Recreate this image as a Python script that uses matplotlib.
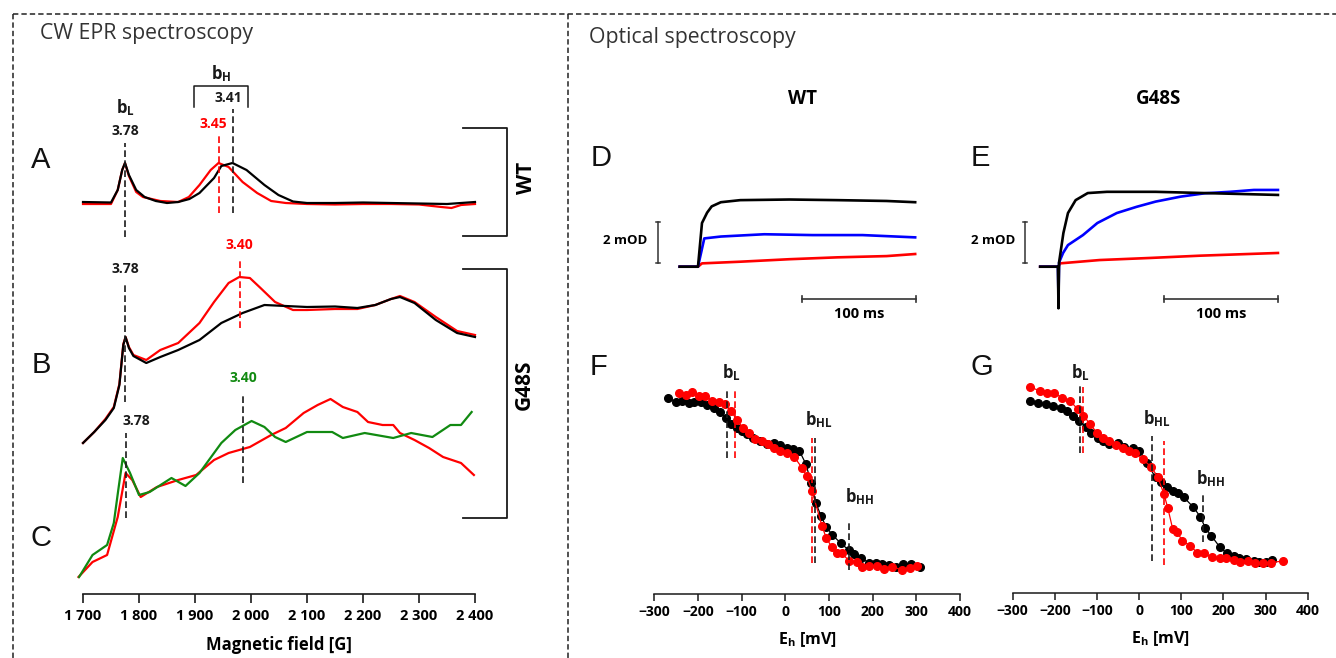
import matplotlib
matplotlib.use("Agg")
import matplotlib.pyplot as plt
from matplotlib.lines import Line2D

plt.rcParams['font.family'] = ['Open Sans', 'DejaVu Sans']
plt.rcParams['mathtext.fontset'] = 'custom'
plt.rcParams['mathtext.bf'] = 'Open Sans:bold'
plt.rcParams['mathtext.rm'] = 'Open Sans'
plt.rcParams['mathtext.it'] = 'Open Sans:italic'

RED = '#ff0000'
GREEN = '#118a11'
BLUE = '#0000ff'
INK = '#1a1a1a'

# ---------------- CW EPR data (field in G, signal in a.u., offset per sample) -------------
field_ticks = [1700, 1800, 1900, 2000, 2100, 2200, 2300, 2400]
field_labels = ['1 700', '1 800', '1 900', '2 000', '2 100', '2 200', '2 300', '2 400']

# A: WT
a_black_B = [1700, 1750, 1762, 1770, 1775, 1782, 1795, 1810, 1830, 1850, 1870, 1890, 1908, 1934,
             1947, 1967, 1992, 2024, 2049, 2075, 2100, 2150, 2200, 2250, 2300, 2350, 2400]
a_black_S = [392, 391.5, 404, 424, 431, 419, 404, 397, 393, 391, 392, 395, 401, 416,
             428, 431, 424, 409, 399, 392.5, 391, 391, 391.5, 391, 390.5, 390, 392]
a_red_B = [1700, 1750, 1762, 1770, 1775, 1782, 1795, 1807, 1838, 1870, 1889, 1908, 1928, 1942,
           1960, 1985, 2011, 2036, 2062, 2100, 2150, 2200, 2250, 2300, 2340, 2358, 2375, 2400]
a_red_S = [390, 390, 404, 424, 431, 418, 402, 397, 393, 392, 397, 409, 424, 431,
           427, 412, 401, 393, 391, 390, 389.5, 390, 390, 389.5, 387, 386, 389, 390]

# B: G48S
b_black_B = [1700, 1720, 1740, 1755, 1765, 1772, 1776, 1782, 1790, 1813, 1838, 1870, 1908, 1947,
             1985, 2024, 2062, 2100, 2150, 2190, 2222, 2250, 2266, 2292, 2330, 2368, 2400]
b_black_S = [151, 162, 174, 186, 209, 249, 257, 246, 238, 231, 237, 244, 254, 271,
             281, 289, 288, 287, 287.5, 286, 289, 295, 297, 291, 274, 261, 257]
b_red_B = [1700, 1720, 1740, 1755, 1765, 1772, 1776, 1782, 1790, 1813, 1838, 1870, 1908, 1934,
           1960, 1979, 1998, 2017, 2043, 2075, 2100, 2150, 2190, 2222, 2250, 2266, 2292, 2330,
           2368, 2400]
b_red_S = [151, 162, 175, 187, 210, 250, 257, 247, 239, 234, 244, 251, 271, 292,
           311, 317, 316, 306, 292, 284, 284, 285, 285, 289, 295, 298, 292, 277,
           263, 259]

# C: G48S
c_green_B = [1693, 1717, 1743, 1755, 1763, 1771, 1784, 1800, 1819, 1858, 1883, 1908, 1947, 1972,
             2001, 2024, 2043, 2062, 2100, 2145, 2164, 2203, 2254, 2286, 2324, 2356, 2375, 2394]
c_green_S = [17, 39, 49, 71, 104, 136, 121, 99, 102, 116, 108, 121, 151, 164,
             173, 167, 157, 152, 162, 162, 156, 161, 156, 161, 157, 169, 169, 182]
c_red_B = [1692, 1717, 1743, 1762, 1776, 1788, 1803, 1832, 1870, 1902, 1934, 1960, 1998, 2036,
           2062, 2094, 2119, 2142, 2164, 2190, 2209, 2235, 2254, 2266, 2292, 2318, 2343, 2375, 2398]
c_red_S = [17, 32, 39, 77, 121, 114, 97, 107, 114, 119, 134, 141, 147, 159,
           166, 181, 189, 195, 187, 182, 172, 169, 169, 161, 154, 146, 137, 131, 119]

# marker lines: (field, low, high, colour)
epr_marks = [(1775, 357, 451, 'k'), (1942, 381, 461, 'r'), (1967, 381, 485, 'k'),
             (1775, 192, 311, 'k'), (1981, 266, 334, 'r'),
             (1985, 111, 201, 'k'), (1777, 76, 161, 'k')]
# g-value labels: (field, signal, text, colour)
epr_gvals = [(1775, 463, '3.78', 'k'), (1932, 470, '3.45', 'r'), (1960, 496, '3.41', 'k'),
             (1980, 349, '3.40', 'r'), (1775, 325, '3.78', 'k'),
             (1986, 216, '3.40', 'g'), (1796, 173, '3.78', 'k')]

# ---------------- Optical kinetics (t in ms, dOD in mOD) ----------------
d_black_t = [-16, -8, 0, 3.5, 8, 12, 20, 37, 80, 122, 165, 190]
d_black_y = [0.0, 0.0, 0.0, 2.1, 2.6, 2.9, 3.1, 3.2, 3.23, 3.2, 3.16, 3.1]
d_blue_t = [-16, -8, 0, 5.5, 20, 58, 100, 144, 190]
d_blue_y = [0.0, 0.0, 0.0, 1.36, 1.45, 1.56, 1.52, 1.52, 1.41]
d_red_t = [-16, -8, 0, 3.5, 37, 80, 122, 165, 190]
d_red_y = [0.0, 0.0, 0.0, 0.16, 0.24, 0.36, 0.45, 0.51, 0.61]

e_black_t = [-16, -8, -0.5, 0, 0.5, 4.3, 8.3, 15, 25.6, 42.4, 85, 128, 192]
e_black_y = [0, 0, 0, -2.0, 0.2, 1.62, 2.58, 3.2, 3.54, 3.6, 3.6, 3.54, 3.45]
e_blue_t = [-16, -8, -0.5, 0, 0.5, 4, 8.3, 21.4, 34, 51, 68.4, 85, 107, 128, 150, 171, 192]
e_blue_y = [0, 0, 0, -1.5, 0.2, 0.66, 1.04, 1.52, 2.1, 2.58, 2.88, 3.13, 3.37, 3.53, 3.6, 3.69, 3.69]
e_red_t = [-16, -8, 0, 1.3, 36, 80, 124, 192]
e_red_y = [0, 0, 0, 0.16, 0.32, 0.42, 0.53, 0.66]

# ---------------- Redox titrations (Eh in mV, normalised absorbance) ----------------
eh_ticks = [-300, -200, -100, 0, 100, 200, 300, 400]
eh_labels = ['\u2212300', '\u2212200', '\u2212100', '0', '100', '200', '300', '400']

f_black_E = [-269, -250, -236, -221, -208, -194, -180, -164, -149, -136, -124, -111, -99, -88,
             -73, -58, -43, -27, -12, 3, 17, 32, 47, 59, 70, 82, 93, 108, 127, 145, 158, 173,
             192, 207, 222, 237, 253, 270, 287, 308]
f_black_A = [1.010, 0.990, 0.996, 0.981, 0.990, 0.986, 0.971, 0.951, 0.928, 0.892, 0.859, 0.834,
             0.818, 0.798, 0.778, 0.759, 0.741, 0.745, 0.735, 0.716, 0.710, 0.702, 0.624, 0.514,
             0.392, 0.318, 0.255, 0.206, 0.157, 0.118, 0.092, 0.069, 0.043, 0.039, 0.034, 0.029,
             0.019, 0.034, 0.034, 0.019]
f_red_E = [-244, -228, -213, -198, -183, -167, -152, -139, -124, -111, -96, -84, -69, -53, -40,
           -27, -12, 5, 21, 38, 49, 61, 84, 94, 107, 119, 129, 146, 165, 175, 192, 209, 226, 245,
           268, 285, 302]
f_red_A = [1.039, 1.029, 1.049, 1.025, 1.024, 0.994, 0.986, 0.976, 0.935, 0.882, 0.834, 0.808,
           0.769, 0.759, 0.741, 0.719, 0.702, 0.686, 0.663, 0.602, 0.553, 0.466, 0.259, 0.186,
           0.134, 0.102, 0.098, 0.055, 0.049, 0.019, 0.024, 0.024, 0.006, 0.019, 0.000, 0.014,
           0.024]

g_black_E = [-259, -240, -220, -203, -186, -170, -156, -142, -126, -113, -98, -86, -71, -51, -36,
             -15, 1, 18, 39, 52, 66, 80, 92, 106, 129, 145, 157, 171, 191, 208, 226, 238, 254,
             272, 285, 301, 315]
g_black_A = [0.996, 0.984, 0.976, 0.965, 0.951, 0.935, 0.908, 0.878, 0.843, 0.808, 0.778, 0.761,
             0.741, 0.745, 0.725, 0.716, 0.700, 0.631, 0.545, 0.519, 0.490, 0.466, 0.451, 0.428,
             0.369, 0.314, 0.249, 0.202, 0.137, 0.098, 0.082, 0.072, 0.065, 0.055, 0.049, 0.045,
             0.059]
g_red_E = [-258, -234, -218, -201, -182, -164, -146, -132, -116, -100, -86, -71, -55, -39, -25,
           -10, 9, 28, 44, 59, 68, 80, 90, 103, 121, 138, 155, 172, 191, 206, 225, 240, 258, 275,
           293, 312, 341]
g_red_A = [1.075, 1.053, 1.039, 1.043, 1.010, 0.996, 0.947, 0.908, 0.857, 0.808, 0.778, 0.761,
           0.735, 0.716, 0.702, 0.686, 0.651, 0.608, 0.549, 0.447, 0.366, 0.239, 0.222, 0.172,
           0.143, 0.102, 0.098, 0.075, 0.069, 0.069, 0.059, 0.049, 0.055, 0.043, 0.039, 0.043,
           0.053]

# midpoint markers: (Eh, low, high, colour)
f_marks = [(-133, 0.657, 1.059, 'k'), (-116, 0.659, 1.059, 'r'),
           (61.6, 0.039, 0.775, 'r'), (68.5, 0.039, 0.775, 'k'), (146, 0.0, 0.290, 'k')]
g_marks = [(-140, 0.690, 1.094, 'k'), (-132, 0.686, 1.078, 'r'),
           (31, 0.055, 0.790, 'k'), (60, 0.029, 0.761, 'r'), (151, 0.166, 0.457, 'k')]
f_names = [(-124, 1.159, 'L'), (76, 0.886, 'HL'), (170, 0.431, 'HH')]
g_names = [(-138, 1.159, 'L'), (43, 0.892, 'HL'), (169, 0.539, 'HH')]

COLS = {'k': INK, 'r': RED, 'g': GREEN}

# ---------------- figure ----------------
W, H = 1336, 658
fig = plt.figure(figsize=(W / 100, H / 100), dpi=100)


def px_axes(left, top, right, bottom):
    return fig.add_axes([left / W, 1 - bottom / H, (right - left) / W, (bottom - top) / H])


def ftext(x, y, s, **kw):
    fig.text(x / W, 1 - y / H, s, **kw)


def fline(xs, ys, **kw):
    fig.add_artist(Line2D([x / W for x in xs], [1 - y / H for y in ys],
                          transform=fig.transFigure, **kw))


# dashed frame
dash = dict(color='#222222', lw=1.1, linestyle=(0, (3.5, 2)))
fline([13, 1336], [14, 14], **dash)
fline([13, 13], [14, 658], **dash)
fline([568, 568], [14, 658], **dash)

ftext(40, 33, 'CW EPR spectroscopy', fontsize=15.3, color='#333333', va='center')
ftext(589, 37, 'Optical spectroscopy', fontsize=15.3, color='#333333', va='center')

letter = dict(fontsize=21, family=['Liberation Sans', 'DejaVu Sans'], ha='center', va='center',
              color='#111111')
for s, x, y in [('A', 41, 160), ('B', 41, 365), ('C', 41, 538),
                ('D', 601, 158), ('E', 980, 158), ('F', 599, 367), ('G', 982, 367)]:
    ftext(x, y, s, **letter)

# ---------- EPR panel ----------
ax = px_axes(71.8, 60, 486.2, 594)
ax.set_xlim(1680, 2420)
ax.set_ylim(0, 534)
for sp in ['top', 'right', 'left']:
    ax.spines[sp].set_visible(False)
ax.spines['bottom'].set_bounds(1700, 2400)
ax.spines['bottom'].set_linewidth(1.2)
ax.spines['bottom'].set_color(INK)
ax.set_yticks([])
ax.set_xticks(field_ticks)
ax.set_xticklabels(field_labels, fontsize=10.5, fontweight='bold')
ax.tick_params(axis='x', direction='out', length=6.5, width=1.2, color=INK, pad=4)
ax.set_xlabel('Magnetic field [G]', fontsize=12, fontweight='bold', labelpad=10)

lw_epr = 1.6
ax.plot(a_red_B, a_red_S, color=RED, lw=lw_epr)
ax.plot(a_black_B, a_black_S, color='black', lw=lw_epr)
ax.plot(b_red_B, b_red_S, color=RED, lw=lw_epr)
ax.plot(b_black_B, b_black_S, color='black', lw=lw_epr)
ax.plot(c_red_B, c_red_S, color=RED, lw=lw_epr, clip_on=False)
ax.plot(c_green_B, c_green_S, color=GREEN, lw=lw_epr, clip_on=False)

for b, lo, hi, c in epr_marks:
    ax.plot([b, b], [lo, hi], color=COLS[c], lw=1.2, linestyle=(0, (4, 2)))
for b, s, t, c in epr_gvals:
    ax.text(b, s, t, color=COLS[c], fontsize=10, fontweight='bold', ha='center', va='center')

ax.text(1775, 486, r'$\mathbf{b}_{\mathbf{L}}$', fontsize=12, ha='center', va='center', color=INK)
ax.text(1946, 520, r'$\mathbf{b}_{\mathbf{H}}$', fontsize=12, ha='center', va='center', color=INK)
ax.plot([1898, 1898, 1994.6, 1994.6], [487, 508, 508, 487], color=INK, lw=1.1, clip_on=False)

# WT / G48S brackets on the right
fline([463, 507, 507, 463], [128, 128, 236, 236], color=INK, lw=1.3)
fline([463, 507, 507, 463], [269, 269, 518, 518], color=INK, lw=1.3)
ftext(527, 178, 'WT', fontsize=15, fontweight='bold', rotation=90, ha='center', va='center')
ftext(524, 385, 'G48S', fontsize=15, fontweight='bold', rotation=90, ha='center', va='center')

# ---------- kinetics panels ----------
ftext(803, 99, 'WT', fontsize=13.5, fontweight='bold', ha='center', va='center')
ftext(1159, 99, 'G48S', fontsize=13.5, fontweight='bold', ha='center', va='center')

kin = [(629.4, d_red_t, d_red_y, d_blue_t, d_blue_y, d_black_t, d_black_y, -35, 90.6),
       (989.9, e_red_t, e_red_y, e_blue_t, e_blue_y, e_black_t, e_black_y, -29, 92)]
for left, rt, ry, bt, by, kt, ky, bar_t, tbar in kin:
    k = px_axes(left, 162.7, left + 297.2, 329.1)
    k.set_xlim(-60, 200)
    k.set_ylim(-3, 5)
    k.axis('off')
    k.plot(rt, ry, color=RED, lw=1.9)
    k.plot(bt, by, color=BLUE, lw=1.9)
    k.plot(kt, ky, color='black', lw=1.9)
    # 2 mOD scale bar
    k.plot([bar_t, bar_t], [0.16, 2.16], color='#333333', lw=1.1, clip_on=False)
    k.plot([bar_t - 1.8, bar_t + 1.8], [0.16, 0.16], color='#333333', lw=1.1, clip_on=False)
    k.plot([bar_t - 1.8, bar_t + 1.8], [2.16, 2.16], color='#333333', lw=1.1, clip_on=False)
    k.text(bar_t - 9, 1.28, '2 mOD', fontsize=9.5, fontweight='bold', ha='right', va='center')
    # 100 ms scale bar
    k.plot([tbar, tbar + 100], [-1.55, -1.55], color='#333333', lw=1.2, clip_on=False)
    k.plot([tbar, tbar], [-1.4, -1.7], color='#333333', lw=1.2, clip_on=False)
    k.plot([tbar + 100, tbar + 100], [-1.4, -1.7], color='#333333', lw=1.2, clip_on=False)
    k.text(tbar + 50, -2.27, '100 ms', fontsize=10.5, fontweight='bold', ha='center', va='center')

# ---------- titration panels ----------
tit = [((654.3, 370, 960, 594), f_black_E, f_black_A, f_red_E, f_red_A, f_marks, f_names),
       ((1012.6, 370, 1307.7, 593), g_black_E, g_black_A, g_red_E, g_red_A, g_marks, g_names)]
for (l, t, r, b), kE, kA, rE, rA, marks, names in tit:
    a = px_axes(l, t, r, b)
    a.set_xlim(-300, 400)
    a.set_ylim((570 - b) / 170, (570 - t) / 170)
    for sp in ['top', 'right', 'left']:
        a.spines[sp].set_visible(False)
    a.spines['bottom'].set_linewidth(1.1)
    a.spines['bottom'].set_color(INK)
    a.set_yticks([])
    a.set_xticks(eh_ticks)
    a.set_xticklabels(eh_labels, fontsize=10, fontweight='bold')
    a.tick_params(axis='x', direction='out', length=5, width=1.1, color=INK, pad=3)
    a.set_xlabel(r'$\mathbf{E}_{\mathbf{h}}$ [mV]', fontsize=11.5, fontweight='bold', labelpad=8)
    a.plot(kE, kA, color='black', lw=0.9, marker='o', ms=5.5, clip_on=False)
    a.plot(rE, rA, color=RED, lw=0.9, marker='o', ms=5.5, clip_on=False)
    for e, lo, hi, c in marks:
        a.plot([e, e], [lo, hi], color=COLS[c], lw=1.2, linestyle=(0, (4, 2)))
    for e, y, sub in names:
        a.text(e, y, r'$\mathbf{b}_{\mathbf{%s}}$' % sub, fontsize=12, ha='center', va='center',
               color=INK)

fig.savefig('out.png', dpi=100)
